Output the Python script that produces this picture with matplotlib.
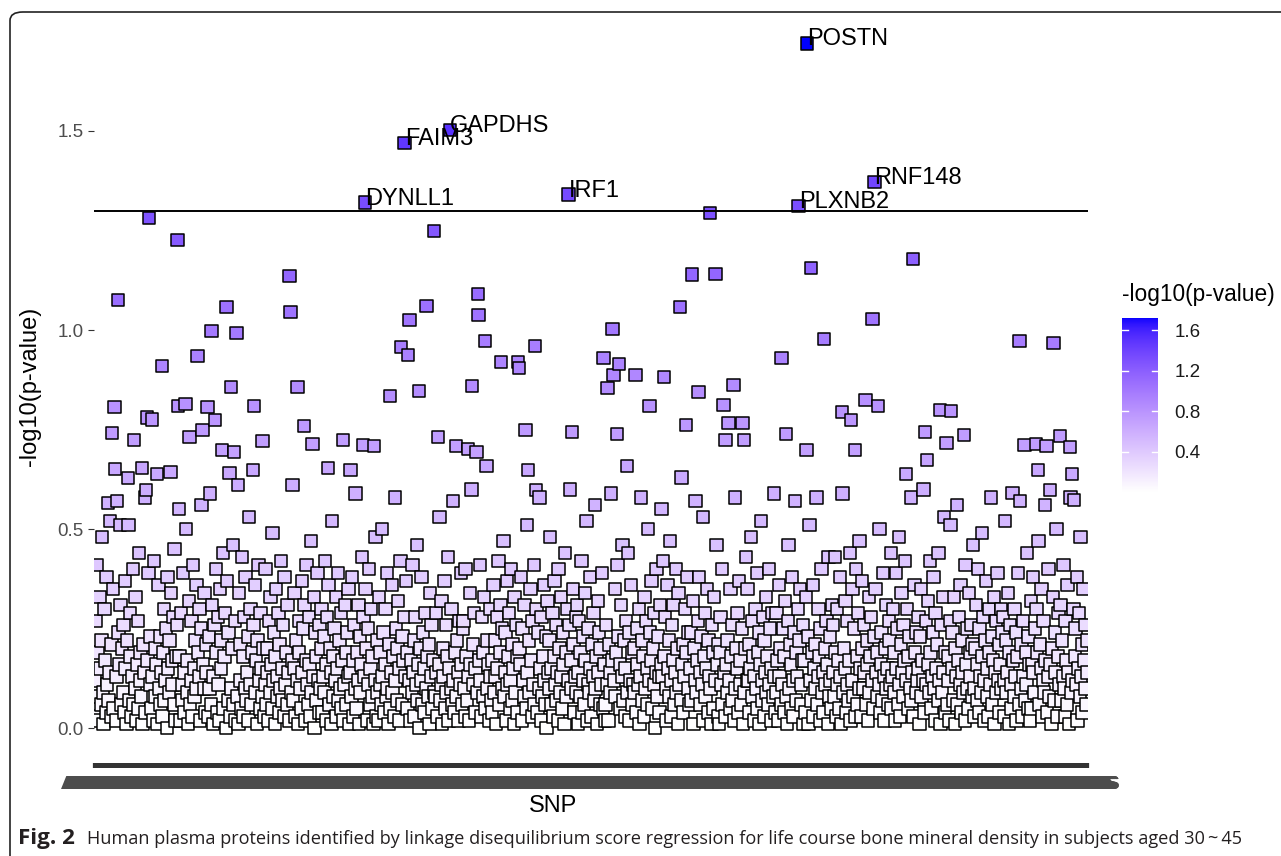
import numpy as np
import matplotlib
matplotlib.use("Agg")
import matplotlib.pyplot as plt
from matplotlib.colors import ListedColormap, Normalize
from matplotlib.patches import FancyBboxPatch

# ---------------- data ----------------
# -log10(p) for every SNP, in hundredths, read/estimated row by row (40 SNPs per row)
base_rows = [
    "12 3 27 8 41 19 2 33 15 6 22 48 9 1 30 17 4 38 11 25 7 14 52 3 21 10 35 5 18 28 2 13 57 8 24 16 0 31 6 20",
    "9 26 4 37 15 1 22 11 51 7 29 18 3 13 40 6 24 10 33 2 16 27 5 44 12 19 8 35 1 21 14 58 4 28 9 17 39 3 23 11",
    "5 31 13 2 42 20 8 16 27 1 36 10 23 6 14 47 3 19 30 7 12 25 0 38 15 9 22 4 34 17 11 28 6 45 2 18 26 8 13 55",
    "18 2 29 11 7 39 14 4 24 50 9 17 1 32 20 6 12 27 3 41 15 8 22 10 36 5 19 13 30 2 25 56 7 16 10 34 4 21 14 43",
    "3 23 10 59 6 17 31 1 13 26 8 40 19 4 28 11 2 35 15 22 9 44 5 18 29 0 12 37 7 24 16 3 33 10 20 46 6 14 27 2",
    "25 8 16 1 34 12 21 5 43 18 3 28 10 38 7 14 23 2 53 11 30 6 19 13 26 4 36 9 17 1 22 41 12 5 29 15 8 32 20 3",
    "11 40 6 20 14 2 27 9 33 16 5 49 12 24 1 18 35 8 13 29 4 21 10 42 7 15 26 3 38 11 19 6 31 14 2 23 54 9 17 28",
    "7 15 34 3 22 12 60 1 19 27 10 5 37 14 25 8 31 2 17 41 11 6 28 16 3 47 9 21 13 33 0 24 18 7 39 12 4 26 10 20",
    "30 4 13 23 9 42 16 2 28 11 36 6 20 14 1 52 18 8 25 12 33 3 15 39 7 22 10 29 5 17 57 2 11 31 19 6 24 13 35 1",
    "14 21 8 38 3 17 26 10 59 5 19 12 31 1 23 9 16 43 4 28 13 7 35 20 2 25 11 40 6 15 30 8 18 1 27 12 48 3 22 9",
    "2 33 11 19 6 50 13 24 4 16 30 8 39 10 1 21 27 5 14 36 9 18 3 58 12 25 7 20 32 2 15 42 10 6 23 17 28 1 13 37",
    "19 5 26 12 35 2 17 9 41 14 22 3 28 11 46 7 16 31 0 20 12 38 6 24 15 4 29 10 44 18 8 21 1 34 13 26 5 17 40 9",
    "8 29 14 3 24 16 53 7 11 32 1 20 13 37 5 26 9 18 43 2 15 23 10 30 6 57 12 4 19 35 8 22 14 2 27 11 39 16 6 25",
    "27 10 3 40 18 7 23 13 2 34 16 60 6 21 11 29 4 15 36 9 25 1 17 41 12 3 28 19 8 33 14 5 49 10 22 16 2 30 13 7",
    "4 17 36 9 22 13 1 28 15 42 6 19 31 3 25 10 47 8 14 24 2 37 11 18 29 5 12 40 7 21 15 1 33 9 26 4 18 55 11 20",
    "16 38 2 25 12 8 31 19 5 51 14 1 22 9 35 17 3 27 11 41 6 20 13 30 4 24 10 58 15 2 28 8 18 36 12 6 23 0 32 14",
    "10 22 48 6 15 29 3 18 37 11 26 7 14 2 40 20 9 33 13 5 24 16 1 44 19 8 30 12 3 26 60 10 17 6 35 21 4 13 28 9",
    "31 1 14 27 8 19 42 4 23 12 6 34 17 52 2 11 25 9 38 15 3 21 13 29 7 56 10 18 1 32 14 24 6 20 11 39 5 27 16 2",
    "6 26 11 33 2 21 14 9 59 17 4 28 12 35 8 19 1 41 23 10 16 5 31 13 46 7 22 15 3 27 18 9 44 2 24 12 36 6 19 11",
    "20 9 39 4 16 25 11 30 1 13 58 7 22 18 3 33 10 27 6 15 50 12 2 24 17 37 5 20 11 29 0 14 40 8 23 13 4 31 16 55",
    "13 42 5 18 28 10 2 36 15 22 8 47 12 3 26 17 31 6 14 40 9 20 1 34 11 25 7 63 16 4 21 13 30 2 19 38 10 24 6 15",
    "24 7 15 32 1 20 12 57 9 17 27 3 38 14 6 23 11 53 2 18 29 8 15 35 4 22 13 41 10 1 26 19 5 33 12 8 46 16 21 3",
    "1 19 28 11 40 6 24 14 3 31 16 9 22 49 12 5 35 18 7 26 13 2 58 10 20 15 29 4 37 11 17 6 25 14 1 32 9 20 43 12",
    "35 12 4 21 15 48 8 27 18 2 13 30 10 39 5 19 24 1 16 52 12 7 28 3 22 14 33 9 18 6 40 11 25 2 15 29 8 59 13 4",
    "9 29 17 2 36 13 20 6 41 11 25 4 18 32 14 8 1 27 46 10 21 16 5 38 12 3 24 57 7 19 13 30 2 22 35 11 6 17 26 1",
    "17 4 33 14 9 23 1 51 12 28 7 19 36 3 15 21 10 58 6 13 30 18 2 25 40 9 14 4 33 20 11 27 16 1 43 8 23 12 5 31",
    "26 14 8 43 19 3 30 11 17 5 38 13 1 24 59 9 20 15 32 4 11 27 7 17 44 2 21 12 35 8 25 14 3 40 18 6 29 10 47 15",
    "3 37 20 10 26 14 57 6 22 16 2 33 9 18 28 12 41 5 23 1 35 14 19 8 29 11 50 4 16 24 7 39 13 2 20 31 10 15 6 27",
    "22 11 44 5 13 30 9 19 2 39 15 25 6 48 11 3 21 34 14 8 26 17 42 1 12 30 5 18 23 10 58 7 14 28 3 36 19 9 24 12",
    "15 28 1 23 35 8 17 12 60 4 20 27 11 3 32 16 9 42 19 5 13 24 38 10 2 29 15 21 7 44 12 18 1 26 9 33 14 53 4 19",
    "37 6 18 12 2 27 51 10 15 24 7 33 1 20 13 56 6 17 28 11 36 4 22 14 9 31 2 41 16 25 10 5 34 19 13 26 8 21 46 3",
    "10 20 31 7 16 40 4 25 13 9 49 18 28 2 12 22 37 8 15 3 30 19 11 58 6 23 17 33 1 14 27 9 39 12 21 4 16 30 10 24",
    "28 3 12 52 22 9 14 34 1 19 26 11 5 42 17 8 30 13 24 2 18 39 6 15 57 10 21 3 27 13 36 7 19 11 44 5 23 16 2 32",
    "5 16 38 14 9 25 2 30 19 11 47 6 21 15 35 3 12 27 9 56 17 23 4 13 40 8 28 16 1 20 33 12 7 24 14 50 3 18 29 11",
    "19 31 7 22 13 41 10 3 27 17 6 36 14 1 24 58 9 20 12 30 5 18 25 11 38 2 15 29 8 48 13 21 4 35 17 10 26 6 14 22",
]

# SNPs standing out above the dense band (index, -log10 p)
hi_idx = [19, 25, 28, 29, 33, 36, 47, 56, 67, 73, 74, 77, 81, 88, 95, 107, 117, 118, 128, 134,
          145, 152, 159, 165, 170, 180, 186, 190, 192, 197, 200, 202, 223, 225, 237, 275, 276, 279, 286, 295,
          307, 329, 350, 361, 378, 394, 416, 432, 442, 444, 457, 468, 478, 484, 509, 526, 532, 538, 540, 541,
          550, 552, 573, 597, 598, 607, 611, 621, 622, 673, 717, 723, 730, 731, 736, 739, 750, 762, 782, 802,
          825, 833, 842, 851, 867, 875, 886, 889, 893, 900, 913, 915, 968, 974, 1003, 1009, 1028, 1053, 1066, 1071,
          1086, 1096, 1104, 1143, 1153, 1170, 1173, 1191, 1200, 1207, 1225, 1293, 1303, 1310, 1326, 1329, 1341, 1346, 1351, 1360,
          1374, 1377, 1380]
hi_val = [0.566, 0.742, 0.807, 0.651, 1.076, 0.511, 0.629, 0.724, 0.654, 0.598, 0.780, 1.282, 0.775, 0.638, 0.910, 0.643, 1.226, 0.809, 0.814, 0.732,
          0.935, 0.749, 0.807, 0.998, 0.774, 0.699, 1.058, 0.641, 0.857, 0.694, 0.993, 0.611, 0.649, 0.809, 0.721, 1.136, 1.046, 0.611, 0.857, 0.759,
          0.714, 0.654, 0.724, 0.649, 0.712, 0.709, 0.834, 0.957, 0.937, 1.025, 0.847, 1.061, 1.249, 0.732, 0.709, 0.701, 0.860, 0.694, 1.091, 1.038,
          0.973, 0.659, 0.920, 0.920, 0.905, 0.749, 0.649, 0.960, 0.598, 0.744, 0.930, 0.855, 1.003, 0.887, 0.739, 0.915, 0.659, 0.887, 0.809, 0.882,
          1.058, 0.762, 1.139, 0.845, 1.294, 1.141, 0.812, 0.724, 0.767, 0.862, 0.767, 0.724, 0.930, 0.739, 0.699, 1.156, 0.978, 0.794, 0.774, 0.699,
          0.824, 1.028, 0.809, 0.638, 1.178, 0.744, 0.674, 0.799, 0.717, 0.797, 0.736, 0.591, 0.973, 0.712, 0.714, 0.649, 0.709, 0.598, 0.968, 0.734,
          0.706, 0.638, 0.573]

# significant proteins (labelled)
label_names = ["DYNLL1", "FAIM3", "GAPDHS", "IRF1", "PLXNB2", "POSTN", "RNF148"]
label_idx = [381, 437, 501, 668, 992, 1004, 1099]
label_val = [1.320, 1.470, 1.503, 1.340, 1.312, 1.720, 1.372]

threshold = 1.30
y_ticks = [0.0, 0.5, 1.0, 1.5]
cbar_ticks = [0.4, 0.8, 1.2, 1.6]

vals = np.array([int(t) for r in base_rows for t in r.split()], dtype=float) / 100.0
vals[hi_idx] = hi_val
vals[label_idx] = label_val
N = len(vals)
xs = np.arange(N)
snp_labels = ["A%04dS" % i for i in range(N)]

# ---------------- colour scale: white -> blue, interpolated in CIE Lab ----------------
def _lin(c):
    c = np.asarray(c, float)
    return np.where(c <= 0.04045, c / 12.92, ((c + 0.055) / 1.055) ** 2.4)

def _gam(c):
    c = np.clip(c, 0, 1)
    return np.where(c <= 0.0031308, 12.92 * c, 1.055 * c ** (1 / 2.4) - 0.055)

M = np.array([[0.4124, 0.3576, 0.1805], [0.2126, 0.7152, 0.0722], [0.0193, 0.1192, 0.9505]])
WP = np.array([0.95047, 1.0, 1.08883])

def rgb2lab(rgb):
    xyz = M @ _lin(rgb) / WP
    f = np.where(xyz > 0.008856, np.cbrt(xyz), 7.787 * xyz + 16 / 116)
    return np.array([116 * f[1] - 16, 500 * (f[0] - f[1]), 200 * (f[1] - f[2])])

def lab2rgb(lab):
    L, a, b = lab
    fy_ = (L + 16) / 116
    f = np.array([fy_ + a / 500, fy_, fy_ - b / 200])
    xyz = np.where(f ** 3 > 0.008856, f ** 3, (f - 16 / 116) / 7.787) * WP
    return _gam(np.linalg.inv(M) @ xyz)

lab_lo, lab_hi = rgb2lab([1, 1, 1]), rgb2lab([0, 0, 1])
cols = [lab2rgb(lab_lo + (lab_hi - lab_lo) * t) for t in np.linspace(0, 1, 256)]
cmap = ListedColormap(cols)
norm = Normalize(vals.min(), vals.max())

# ---------------- figure ----------------
W, H = 1281, 856
fig = plt.figure(figsize=(W / 100, H / 100), dpi=100)
fig.patch.set_facecolor("white")
FONT = "Liberation Sans"

def fx(px):
    return px / W

def fy(py):
    return 1 - py / H

ax = fig.add_axes([fx(94), fy(762.5), fx(1088) - fx(94), fy(9.1) - fy(762.5)])
ax.set_facecolor("none")
ax.scatter(xs, vals, c=vals, cmap=cmap, norm=norm, marker="s", s=80,
           edgecolors="black", linewidths=1.1, zorder=2)
ax.axhline(threshold, color="black", lw=1.4, zorder=3)
for name, i, v in zip(label_names, label_idx, label_val):
    ax.annotate(name, (i, v), xytext=(0, -1.5), textcoords="offset points",
                ha="left", va="baseline", fontsize=17, family=FONT, color="black", zorder=4)

rng = vals.max() - vals.min()
ax.set_ylim(vals.min() - 0.05 * rng, vals.max() + 0.05 * rng)
ax.set_xlim(-0.6, N - 1 + 0.6)
for s in ax.spines.values():
    s.set_visible(False)
ax.set_yticks(y_ticks)
ax.set_yticklabels(["%.1f" % t for t in y_ticks], fontsize=13.5, family=FONT, color="#4d4d4d")
ax.set_xticks(xs)
ax.set_xticklabels(snp_labels, fontsize=13.5, family=FONT, color="#4d4d4d")
ax.tick_params(axis="y", length=4, width=0.8, color="#333333", pad=3.5)
ax.tick_params(axis="x", length=3.5, width=1.6, color="#333333", pad=6)

fig.text(fx(553), fy(806), "SNP", ha="center", va="center", fontsize=17, family=FONT)
fig.text(fx(30), fy(386), "-log10(p-value)", ha="center", va="center", rotation=90,
         fontsize=17, family=FONT)

# colour bar
vmin, vmax = vals.min(), vals.max()
cax = fig.add_axes([fx(1122), fy(492.2), fx(1158) - fx(1122), (vmax - vmin) * 101.2 / H])
grad = np.linspace(vmin, vmax, 300)[:, None]
cax.imshow(grad, aspect="auto", cmap=cmap, norm=norm, origin="lower",
           extent=[0, 1, vmin, vmax])
cax.set_xlim(0, 1)
cax.set_ylim(vmin, vmax)
for t in cbar_ticks:
    cax.plot([0, 0.17], [t, t], color="white", lw=1.0)
    cax.plot([0.83, 1], [t, t], color="white", lw=1.0)
cax.set_xticks([])
cax.yaxis.tick_right()
cax.set_yticks(cbar_ticks)
cax.set_yticklabels(["%.1f" % t for t in cbar_ticks], fontsize=13.5, family=FONT, color="#1a1a1a")
cax.tick_params(axis="y", length=0, pad=12)
for s in cax.spines.values():
    s.set_visible(False)
fig.text(fx(1122), fy(301), "-log10(p-value)", ha="left", va="baseline", fontsize=16.4, family=FONT)

# frame and caption
frame = FancyBboxPatch((fx(10), fy(1300)), fx(2000), fy(12) - fy(1300),
                       boxstyle="round,pad=0,rounding_size=0.01", transform=fig.transFigure,
                       fill=False, ec="#222222", lw=1.2, clip_on=False)
fig.patches.append(frame)

CAP = "Open Sans"
t1 = fig.text(fx(18), fy(844), "Fig. 2", ha="left", va="baseline", fontsize=14,
              family=CAP, weight="bold", color="#231f20")
t2 = fig.text(fx(87), fy(844),
              "Human plasma proteins identified by linkage disequilibrium score regression for life course bone mineral density in subjects aged 30\u2009~\u200945",
              ha="left", va="baseline", fontsize=14, family=CAP, color="#231f20")
r = fig.canvas.get_renderer()
w2 = t2.get_window_extent(r).width
t2.set_fontsize(14 * (1247 - 87) / w2)
w1 = t1.get_window_extent(r).width
t1.set_fontsize(14 * (75 - 18) / w1)

fig.savefig("out.png", dpi=100)
